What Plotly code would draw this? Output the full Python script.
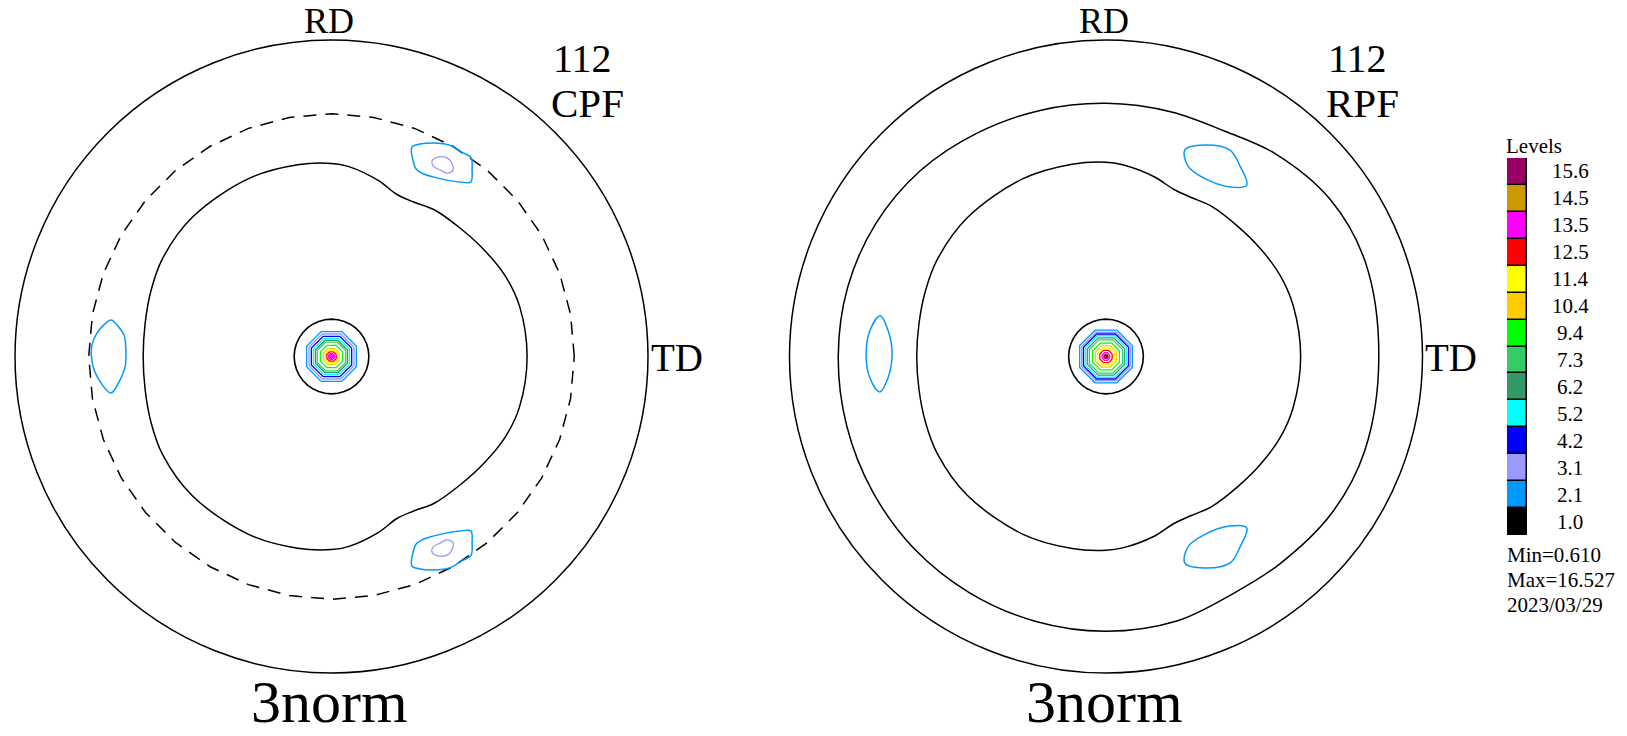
import plotly.graph_objects as go

W, H = 1627, 736

# ---------------- legend data ----------------
LEVEL_LABELS = ["1.0", "2.1", "3.1", "4.2", "5.2", "6.2", "7.3",
                "9.4", "10.4", "11.4", "12.5", "13.5", "14.5", "15.6"]
LEVEL_COLORS = ["#000000", "#0099ff", "#9999ff", "#0000ff", "#00ffff", "#339966",
                "#33cc66", "#00ff00", "#ffcc00", "#ffff00", "#ff0000", "#ff00ff",
                "#cc9900", "#990066"]
STATS_TEXT = ["Min=0.610", "Max=16.527", "2023/03/29"]

# ---------------- CPF (left) contours: theta in deg (0 = TD, 90 = RD), r = projected radius (1 = rim) ----
CPF_INNER_THETA = [0, 15, 25, 35, 45, 55, 62, 68, 75, 85, 90, 100, 115, 135, 150, 160, 170, 180,
                   190, 200, 210, 225, 245, 260, 270, 275, 285, 292, 298, 305, 315, 325, 335, 345, 360]
CPF_INNER_R = [0.618, 0.615, 0.605, 0.588, 0.574, 0.566, 0.553, 0.552, 0.575, 0.603, 0.610, 0.615,
               0.620, 0.622, 0.617, 0.607, 0.598, 0.595, 0.598, 0.607, 0.617, 0.622, 0.620, 0.615,
               0.610, 0.603, 0.575, 0.552, 0.553, 0.566, 0.574, 0.588, 0.605, 0.615, 0.618]

CPF_DASHED_R = 0.767

CPF_LOBE_UR_THETA = [69.0, 67.4, 64.6, 61.9, 60.2, 57.5, 54.9, 53.0, 51.4, 53.6, 56.8, 60.5, 63.7, 65.7, 67.5, 69.0]
CPF_LOBE_UR_R = [0.709, 0.727, 0.747, 0.761, 0.766, 0.766, 0.767, 0.738, 0.706, 0.685, 0.666, 0.652, 0.646, 0.650, 0.672, 0.709]
CPF_LOBE_LR_THETA = [291.0, 292.6, 295.4, 298.1, 299.8, 302.5, 305.1, 307.0, 308.6, 306.4, 303.2, 299.5, 296.3, 294.3, 292.5, 291.0]
CPF_LOBE_LR_R = [0.709, 0.727, 0.747, 0.761, 0.766, 0.766, 0.767, 0.738, 0.706, 0.685, 0.666, 0.652, 0.646, 0.650, 0.672, 0.709]
CPF_LOBE_L_THETA = [170.6, 171.9, 174.1, 178.2, 182.9, 186.8, 189.4, 185.8, 181.3, 177.3, 174.3, 172.1, 170.6]
CPF_LOBE_L_R = [0.706, 0.681, 0.659, 0.650, 0.653, 0.676, 0.706, 0.738, 0.757, 0.758, 0.745, 0.726, 0.706]

CPF_PEAK_UR_THETA = [62.8, 61.9, 59.8, 58.1, 56.9, 57.8, 59.8, 61.9, 62.8]
CPF_PEAK_UR_R = [0.695, 0.714, 0.726, 0.720, 0.703, 0.685, 0.682, 0.682, 0.695]
CPF_PEAK_LR_THETA = [297.2, 298.1, 300.2, 301.9, 303.1, 302.2, 300.2, 298.1, 297.2]
CPF_PEAK_LR_R = [0.695, 0.714, 0.726, 0.720, 0.703, 0.685, 0.682, 0.682, 0.695]

# radius of each level ring around the centre pole
CPF_CENTER_R = [0.118, 0.085, 0.077, 0.069, 0.062, 0.055, 0.049, 0.038, 0.027, 0.021, 0.016, 0.010]

# ---------------- RPF (right) contours ----------------
RPF_INNER_THETA = [0, 15, 25, 35, 45, 55, 62, 68, 75, 85, 90, 100, 115, 135, 150, 160, 170, 180,
                   190, 200, 210, 225, 245, 260, 270, 275, 285, 292, 298, 305, 315, 325, 335, 345, 360]
RPF_INNER_R = [0.615, 0.613, 0.607, 0.595, 0.585, 0.580, 0.570, 0.570, 0.588, 0.608, 0.614, 0.617,
               0.620, 0.620, 0.615, 0.607, 0.600, 0.598, 0.600, 0.607, 0.615, 0.620, 0.620, 0.616,
               0.612, 0.607, 0.588, 0.570, 0.570, 0.580, 0.585, 0.595, 0.607, 0.613, 0.615]

RPF_OUTER_THETA = [0, 20, 35, 50, 62, 75, 90, 105, 120, 135, 150, 165, 180,
                   195, 210, 225, 240, 255, 270, 285, 298, 310, 325, 340, 360]
RPF_OUTER_R = [0.862, 0.872, 0.865, 0.835, 0.805, 0.800, 0.800, 0.805, 0.815, 0.830, 0.840, 0.845, 0.846,
               0.848, 0.852, 0.858, 0.862, 0.866, 0.868, 0.865, 0.850, 0.855, 0.868, 0.870, 0.862]

RPF_LOBE_UR_THETA = [69.1, 65.1, 59.0, 54.9, 50.6, 53.8, 61.2, 66.7, 69.1]
RPF_LOBE_UR_R = [0.699, 0.737, 0.761, 0.736, 0.701, 0.664, 0.643, 0.655, 0.699]
RPF_LOBE_LR_THETA = [290.9, 294.9, 301.0, 305.1, 309.4, 306.2, 298.8, 293.3, 290.9]
RPF_LOBE_LR_R = [0.699, 0.737, 0.761, 0.736, 0.701, 0.664, 0.643, 0.655, 0.699]
RPF_LOBE_L_THETA = [169.8, 173.1, 179.3, 185.6, 188.9, 185.2, 179.4, 173.6, 169.8]
RPF_LOBE_L_R = [0.725, 0.694, 0.676, 0.692, 0.723, 0.749, 0.758, 0.750, 0.725]

RPF_CENTER_R = [0.118, 0.090, 0.083, 0.077, 0.071, 0.064, 0.057, 0.046, 0.036, 0.029, 0.021, 0.013, 0.008, 0.004]

ROUND = list(range(0, 361, 10))
OCT = [22.5 + 45 * k for k in range(9)]


def PX(x):
    return x / W


def PY(y):
    return 1 - y / H


fig = go.Figure()


def line(subplot, theta, r, color, width=1.5, dash="solid", shape="spline"):
    fig.add_trace(go.Scatterpolar(theta=theta, r=r, mode="lines", subplot=subplot,
                                  line=dict(color=color, width=width, dash=dash, shape=shape),
                                  hoverinfo="skip", showlegend=False))


def centre(subplot, radii):
    for i, rr in enumerate(radii):
        if i == 0:
            line(subplot, ROUND, [rr] * len(ROUND), LEVEL_COLORS[0], 1.6, shape="linear")
        else:
            line(subplot, OCT, [rr] * len(OCT), LEVEL_COLORS[i], 1.3, shape="linear")
    fig.add_trace(go.Scatterpolar(theta=[0], r=[0], mode="markers", subplot=subplot,
                                  marker=dict(color=LEVEL_COLORS[len(radii) - 1], size=5),
                                  hoverinfo="skip", showlegend=False))


# left panel
line("polar", CPF_INNER_THETA, CPF_INNER_R, "black")
line("polar", ROUND, [CPF_DASHED_R] * len(ROUND), "black", 1.5, dash="13px,9px", shape="linear")
line("polar", CPF_LOBE_UR_THETA, CPF_LOBE_UR_R, LEVEL_COLORS[1])
line("polar", CPF_LOBE_LR_THETA, CPF_LOBE_LR_R, LEVEL_COLORS[1])
line("polar", CPF_LOBE_L_THETA, CPF_LOBE_L_R, LEVEL_COLORS[1])
line("polar", CPF_PEAK_UR_THETA, CPF_PEAK_UR_R, LEVEL_COLORS[2], 1.3)
line("polar", CPF_PEAK_LR_THETA, CPF_PEAK_LR_R, LEVEL_COLORS[2], 1.3)
centre("polar", CPF_CENTER_R)

# right panel
line("polar2", RPF_INNER_THETA, RPF_INNER_R, "black")
line("polar2", RPF_OUTER_THETA, RPF_OUTER_R, "black")
line("polar2", RPF_LOBE_UR_THETA, RPF_LOBE_UR_R, LEVEL_COLORS[1])
line("polar2", RPF_LOBE_LR_THETA, RPF_LOBE_LR_R, LEVEL_COLORS[1])
line("polar2", RPF_LOBE_L_THETA, RPF_LOBE_L_R, LEVEL_COLORS[1])
centre("polar2", RPF_CENTER_R)

# legend boxes
fig.add_trace(go.Bar(x=[1] * len(LEVEL_LABELS), y=list(range(len(LEVEL_LABELS))), orientation="h",
                     width=1, marker=dict(color=LEVEL_COLORS, line=dict(color="black", width=1.5)),
                     xaxis="x", yaxis="y", hoverinfo="skip", showlegend=False))


def polar_layout(x0px, x1px):
    return dict(
        domain=dict(x=[PX(x0px), PX(x1px)], y=[PY(673), PY(40)]),
        bgcolor="white",
        radialaxis=dict(visible=False, range=[0, 1]),
        angularaxis=dict(visible=True, showline=True, linecolor="black", linewidth=1.5,
                         showgrid=False, showticklabels=False, ticks="",
                         rotation=0, direction="counterclockwise"),
    )


SERIF = "Liberation Serif, Times New Roman, serif"
ann = []


def txt(text, x, y, size, xanchor="center", yanchor="middle"):
    ann.append(dict(text=text, x=PX(x), y=PY(y), xref="paper", yref="paper",
                    showarrow=False, xanchor=xanchor, yanchor=yanchor,
                    borderpad=0, borderwidth=0,
                    font=dict(family=SERIF, size=size, color="black")))


txt("RD", 329, 21, 36)
txt("RD", 1104, 21, 36)
txt("TD", 651, 357, 39, "left")
txt("TD", 1425, 357, 39, "left")
txt("112", 553, 81, 40, "left", "bottom")
txt("CPF", 551, 80, 41, "left", "top")
txt("112", 1328, 81, 40, "left", "bottom")
txt("RPF", 1326, 80, 41, "left", "top")
txt("3norm", 329, 702, 60)
txt("3norm", 1104, 702, 60)
txt("Levels", 1506, 146, 21, "left")
for k, s in enumerate(STATS_TEXT):
    txt(s, 1507, 555 + 25 * k, 21, "left")
for i, lab in enumerate(LEVEL_LABELS):
    ann.append(dict(text=lab, x=PX(1570), y=i, xref="paper", yref="y", showarrow=False,
                    xanchor="center", yanchor="middle",
                    font=dict(family=SERIF, size=21, color="black")))

fig.update_layout(
    width=W, height=H,
    margin=dict(l=0, r=0, t=0, b=0),
    paper_bgcolor="white", plot_bgcolor="white",
    showlegend=False,
    polar=polar_layout(15, 648),
    polar2=polar_layout(789.5, 1422.5),
    xaxis=dict(domain=[PX(1507), PX(1527)], range=[0, 1], visible=False, fixedrange=True),
    yaxis=dict(domain=[PY(535), PY(158)], range=[-0.5, 13.5], visible=False, fixedrange=True),
    bargap=0,
    annotations=ann,
)

fig.write_html("out.html", config={"displayModeBar": False},
               post_script="document.body.style.margin='0';document.body.style.overflow='hidden';")
